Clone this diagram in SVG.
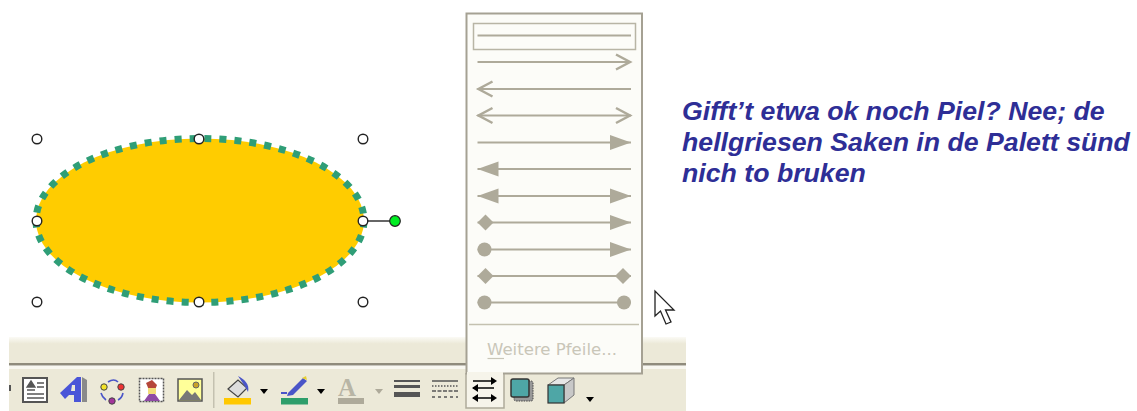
<svg xmlns="http://www.w3.org/2000/svg" width="1137" height="411" viewBox="0 0 1137 411">
<defs>
<linearGradient id="bar" x1="0" y1="0" x2="0" y2="1"><stop offset="0" stop-color="#fbfaf5"/><stop offset="0.25" stop-color="#ecE9D8"/><stop offset="1" stop-color="#ecE9D8"/></linearGradient>
<path id="open" d="M-15-7.500L-1 0L-15 7.500" fill="none" stroke="#aeaa9a" stroke-width="2.500"/>
<path id="solid" d="M-21-7.500L0 0L-21 7.500Z" fill="#aeaa9a"/>
<path id="dia" d="M-8 0L0-8L8 0L0 8Z" fill="#aeaa9a"/>
<circle id="dot" r="7" fill="#aeaa9a"/>
<circle id="handle" r="4.800" fill="#fff" stroke="#222" stroke-width="1.400"/>
<path id="tri" d="M-4-2H4L0 3Z"/>
</defs>
<style>
.l{stroke:#aeaa9a;stroke-width:2;fill:none}
.t{font-family:"Liberation Sans",Arial,sans-serif;font-weight:bold;font-style:italic;font-size:26.700px;fill:#2e2e96}
</style>
<rect width="1137" height="411" fill="#fff"/>
<g id="toolbar">
<rect x="9" y="337" width="677" height="27" fill="url(#bar)"/>
<rect x="9" y="363" width="677" height="2.500" fill="#8f8b7c"/>
<rect x="9" y="366" width="677" height="3" fill="#f8f7f0"/>
<rect x="9" y="369" width="677" height="42" fill="#ecE9D8"/>
<rect x="9" y="385" width="2" height="6" fill="#555"/>
<g id="icon-textbox"><rect x="23" y="378" width="24" height="24" fill="#fff" stroke="#555" stroke-width="2"/><path d="M27 387L31 381L35 387ZM27 390H35M37 383H44M37 387H44M27 394H44M27 398H44" fill="#555" stroke="#555" stroke-width="1.300"/></g>
<g id="icon-wordart"><path d="M60 393L77 377H81V402H74V395H69L65 399Z" fill="#4a55d8"/><path d="M82 377L87 380V402H82Z" fill="#8a8a8a"/><path d="M72 385L71 391H75V385Z" fill="#ecE9D8"/></g>
<g id="icon-diagram" fill="none" stroke="#4a55c8" stroke-width="1.600"><path d="M108 382Q114 378 118 382M123 393Q122 398 118 400M106 400Q102 397 101 393"/><circle cx="104" cy="387" r="3.200" fill="#f2e22a" stroke="#444" stroke-width="1"/><circle cx="121" cy="387" r="3.200" fill="#e33" stroke="#444" stroke-width="1"/><circle cx="112" cy="401" r="3.200" fill="#a3359b" stroke="#444" stroke-width="1"/></g>
<g id="icon-clipart"><rect x="139.500" y="378.500" width="24" height="23" fill="#fff" stroke="#555" stroke-width="1.500" stroke-dasharray="2 1"/><path d="M146 383L152 380L157 385L155 390H149Z" fill="#b5463a"/><path d="M148 388H156V394H148Z" fill="#f2dc7a"/><path d="M144 401L149 394H155L160 401Z" fill="#8f4aa5"/></g>
<g id="icon-picture"><rect x="178" y="379" width="24" height="22" fill="#ffff99" stroke="#555" stroke-width="1.500"/><circle cx="196" cy="385" r="3" fill="#c9a227" stroke="#666"/><path d="M179 400L187 390L192 395L195 392L201 400Z" fill="#777"/></g>
<rect x="213" y="372" width="1.500" height="36" fill="#c4c1b0"/>
<g id="icon-fill"><path d="M228 389L238 380L247 388L238 397Z" fill="#ddd" stroke="#444" stroke-width="1.200"/><path d="M238 376C244 379 250 384 248 392L246 388Z" fill="#4a55c8"/><rect x="224" y="398" width="27" height="6.500" fill="#ffc800"/><use href="#tri" x="264" y="391"/></g>
<g id="icon-line"><path d="M288 393L303 378L307 381L293 395L287 396Z" fill="#4a55c8"/><path d="M302 378L306 376L307 380Z" fill="#e8d030"/><path d="M281 393H287" stroke="#4a55c8" stroke-width="2"/><rect x="281" y="398" width="27" height="6.500" fill="#2e9e6b"/><use href="#tri" x="321" y="391"/></g>
<g id="icon-fontcolor"><text x="338" y="396" font-family="Liberation Serif,serif" font-weight="bold" font-size="25" fill="#b8b5a5">A</text><rect x="338" y="398" width="26" height="6" fill="#aeaa9a"/><use href="#tri" x="379" y="391" fill="#aeaa9a"/></g>
<g id="icon-linestyle" fill="#555"><rect x="394" y="380" width="26" height="2"/><rect x="394" y="385" width="26" height="3"/><rect x="394" y="392" width="26" height="5"/></g>
<g id="icon-dash" stroke="#555" stroke-width="1.500"><path d="M432 381H458"/><path d="M432 386H458" stroke-dasharray="1.500 1.500"/><path d="M432 391H458" stroke-dasharray="4 1.500"/><path d="M432 397H458" stroke-dasharray="3 3"/></g>
<g id="icon-arrows"><path d="M466 373V408H504V373" fill="#f6f4ea" stroke="#aeaa9a" stroke-width="1.500"/><g stroke="#000" stroke-width="1.600"><path d="M473 381H494M473 388H494M473 398H494"/></g><path d="M497 381L491 377V385ZM472 388L478 384V392ZM497 398L491 394V402ZM472 398L478 394V402Z"/></g>
<g id="icon-shadow"><rect x="514" y="381" width="19" height="20" rx="2" fill="#999" stroke="#444" stroke-dasharray="1.500 1"/><rect x="511" y="379" width="18" height="18" rx="2" fill="#4ea6a6" stroke="#333" stroke-width="1.500"/></g>
<g id="icon-3d"><path d="M548 385L558 378H574L564 385Z" fill="#e6e6e6" stroke="#777"/><path d="M564 385L574 378V395L564 403Z" fill="#c8c8c8" stroke="#777"/><rect x="548" y="385" width="16" height="18" fill="#4ea6a6" stroke="#333" stroke-width="1.200"/><use href="#tri" x="590" y="399"/></g>
</g>
<g id="shape">
<ellipse cx="200" cy="220.500" rx="164" ry="82" fill="#ffcc00" stroke="#2f9e77" stroke-width="7" stroke-dasharray="7 8"/>
</g>
<g id="connectors">
<path d="M363 221H395" stroke="#333" stroke-width="1.500"/>
</g>
<g id="handles">
<use href="#handle" x="37" y="139"/><use href="#handle" x="199" y="139"/><use href="#handle" x="363" y="139"/>
<use href="#handle" x="37" y="221"/><use href="#handle" x="363" y="221"/>
<use href="#handle" x="37" y="302"/><use href="#handle" x="199" y="302"/><use href="#handle" x="363" y="302"/>
<circle id="rotate" cx="395" cy="221" r="5.300" fill="#00ee22" stroke="#222" stroke-width="1.200"/>
</g>
<g id="palette">
<rect x="466.500" y="13.500" width="175.500" height="360" fill="#fcfcf8" stroke="#a5a193" stroke-width="2"/>
<rect x="467" y="372" width="36" height="3" fill="#f6f4ea"/>
<rect x="473.500" y="23.500" width="162" height="26" fill="none" stroke="#b8b5a5" stroke-width="1.500"/>
<path class="l" d="M477.500 35.500H631M477.500 62H631M477.500 89H631M477.500 115.500H631M477.500 142.500H631M477.500 169H631M477.500 196H631M477.500 222.500H631M477.500 249.500H631M477.500 276H631M477.500 302.500H631"/>
<use href="#open" x="631" y="62"/>
<use href="#open" transform="translate(477.500 89) scale(-1 1)"/>
<use href="#open" x="631" y="115.500"/><use href="#open" transform="translate(477.500 115.500) scale(-1 1)"/>
<use href="#solid" x="631" y="142.500"/>
<use href="#solid" transform="translate(477.500 169) scale(-1 1)"/>
<use href="#solid" x="631" y="196"/><use href="#solid" transform="translate(477.500 196) scale(-1 1)"/>
<use href="#solid" x="631" y="222.500"/><use href="#dia" x="485.500" y="222.500"/>
<use href="#solid" x="631" y="249.500"/><use href="#dot" x="484.500" y="249.500"/>
<use href="#dia" x="485.500" y="276"/><use href="#dia" x="623" y="276"/>
<use href="#dot" x="484.500" y="302.500"/><use href="#dot" x="624" y="302.500"/>
<path d="M469 324.500H639" stroke="#c4c1b0" stroke-width="1.500"/>
<text x="487" y="355" font-family="DejaVu Sans,sans-serif" font-size="16.500" fill="#c9c6b8" textLength="130" lengthAdjust="spacingAndGlyphs">Weitere Pfeile...</text>
<path d="M487.500 358.500H504" stroke="#c9c6b8" stroke-width="1.200"/>
</g>
<g id="cursor">
<path d="M655 291V316L660.500 311L666 324L671 322L665.500 310H674Z" fill="#fff" stroke="#222" stroke-width="1.300"/>
</g>
<g id="caption">
<text class="t" x="682" y="120">Gifft’t etwa ok noch Piel? Nee; de</text>
<text class="t" x="682" y="151">hellgriesen Saken in de Palett sünd</text>
<text class="t" x="682" y="182">nich to bruken</text>
</g>
</svg>
